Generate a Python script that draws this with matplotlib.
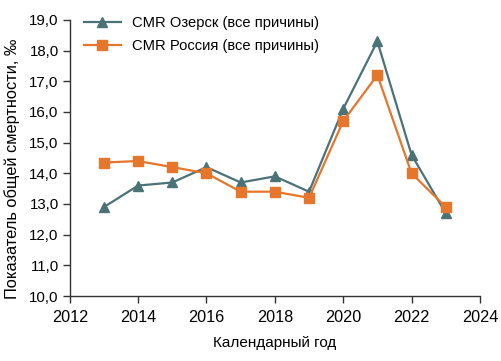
import numpy as np
import matplotlib.pyplot as plt
from matplotlib.ticker import FuncFormatter

plt.rcParams['font.family'] = ['Liberation Sans', 'DejaVu Sans']

# data
years = [2013, 2014, 2015, 2016, 2017, 2018, 2019, 2020, 2021, 2022, 2023]
cmr_ozersk = [12.9, 13.6, 13.7, 14.2, 13.7, 13.9, 13.4, 16.1, 18.3, 14.6, 12.7]
cmr_russia = [14.35, 14.4, 14.2, 14.0, 13.4, 13.4, 13.2, 15.7, 17.2, 14.0, 12.9]
x_ticks = [2012, 2014, 2016, 2018, 2020, 2022, 2024]
y_ticks = [10, 11, 12, 13, 14, 15, 16, 17, 18, 19]

teal = '#4b7377'
orange = '#e5762c'
axis_col = '#333333'

fig = plt.figure(figsize=(5.02, 3.61), dpi=100)
ax = fig.add_axes([0.139, 0.18, 0.817, 0.765])

ax.plot(years, cmr_ozersk, color=teal, marker='^', markersize=7.5, lw=1.6,
        label='CMR Озерск (все причины)')
ax.plot(years, cmr_russia, color=orange, marker='s', markersize=6.5, lw=1.6,
        label='CMR Россия (все причины)')

ax.set_xlim(2012, 2024)
ax.set_ylim(10, 19)
ax.set_xticks(x_ticks)
ax.set_yticks(y_ticks)
ax.yaxis.set_major_formatter(FuncFormatter(lambda v, p: f'{v:.1f}'.replace('.', ',')))

for s in ['top', 'right']:
    ax.spines[s].set_visible(False)
for s in ['left', 'bottom']:
    ax.spines[s].set_color(axis_col)
    ax.spines[s].set_linewidth(1.0)
ax.tick_params(direction='out', length=5, width=1.0, color=axis_col,
               labelcolor='black')
ax.tick_params(axis='x', labelsize=11.7, pad=5)
ax.tick_params(axis='y', labelsize=10.8, pad=3)

ax.set_xlabel('Календарный год', fontsize=11, labelpad=8)
ax.set_ylabel('Показатель общей смертности, ‰', fontsize=11.8)
ax.yaxis.set_label_coords(-0.122, 0.46)

ax.legend(loc='upper left', frameon=False, fontsize=10.6, handlelength=2.5,
          handletextpad=0.8, borderaxespad=0.0, bbox_to_anchor=(0.02, 1.035),
          labelspacing=0.6)

fig.savefig('out.png', dpi=100)
